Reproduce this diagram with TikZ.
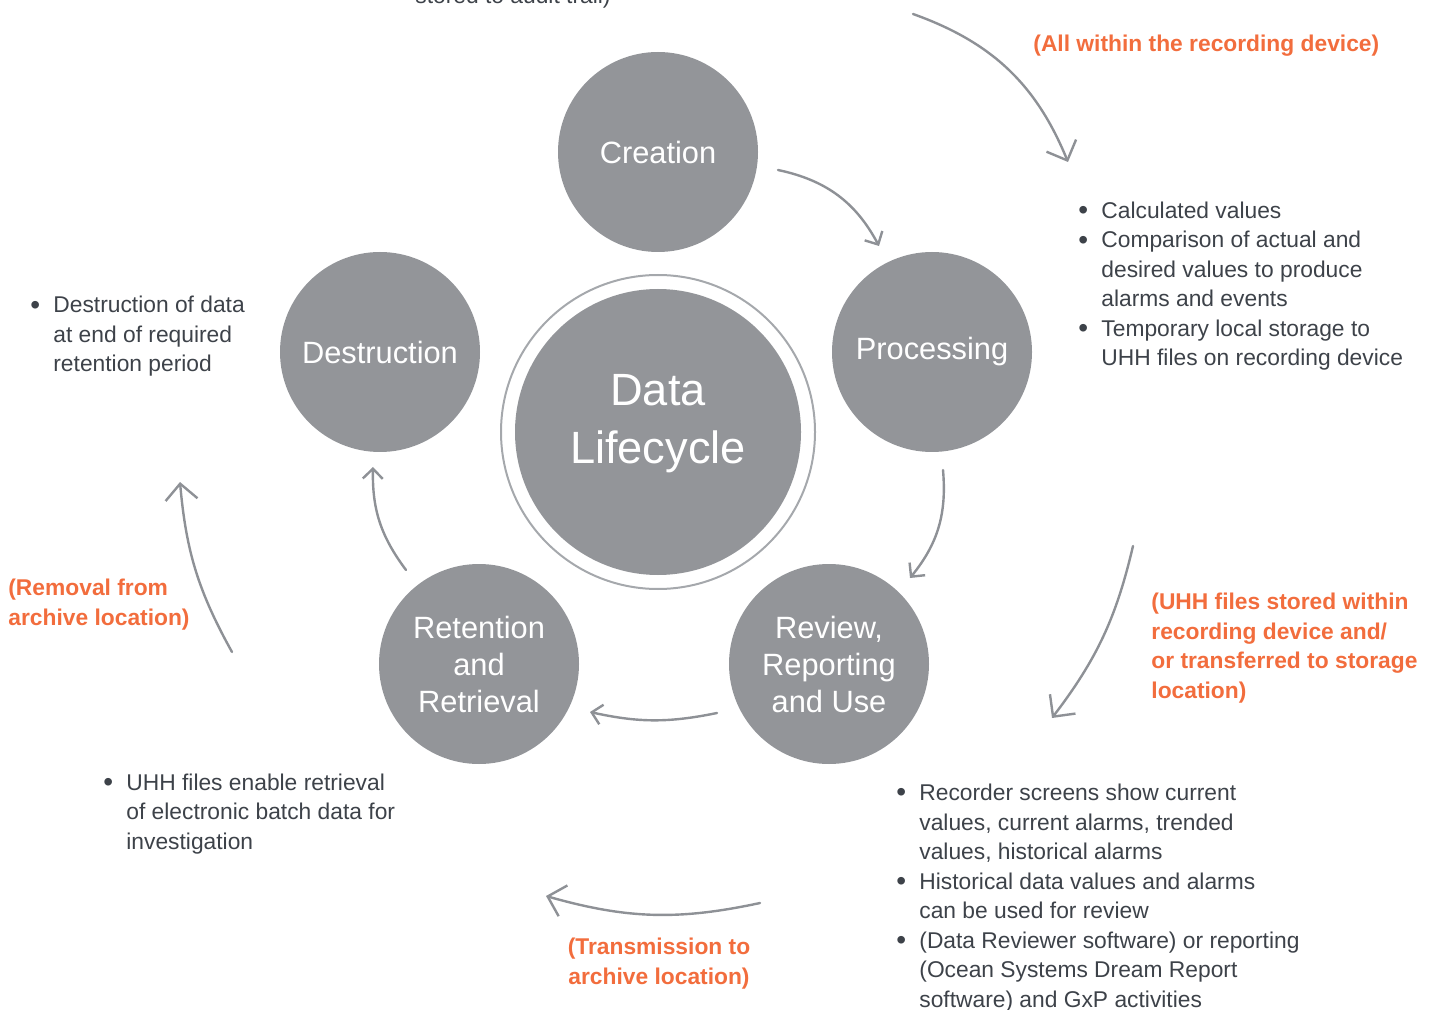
\documentclass[tikz,border=0pt]{standalone}
\usepackage{fontspec}
\setmainfont{Liberation Sans}
\usetikzlibrary{arrows.meta}
\definecolor{stagegrey}{HTML}{939599}
\definecolor{ringgrey}{HTML}{A5A8AC}
\definecolor{arrowgrey}{HTML}{8E9196}
\definecolor{notetext}{HTML}{3D4249}
\definecolor{noteorange}{HTML}{F26D3D}
\newcommand{\blt}{\makebox[11.5pt][l]{\raisebox{-0.6pt}{\fontsize{14}{14}\selectfont\textbullet}}}
\newcommand{\bsp}{\hspace*{11.5pt}}
\begin{document}
\begin{tikzpicture}[x=0.5pt, y=-0.5pt, line cap=round,
stage node/.style={circle,fill=stagegrey,minimum size=100pt,inner sep=0pt,text=white,align=center,font=\fontsize{15.4}{18.5}\selectfont},
note/.style={anchor=base west,align=left,inner sep=0pt,text=notetext,font=\fontsize{11.4}{14.75}\selectfont},
remark/.style={anchor=base west,align=left,inner sep=0pt,text=noteorange,font=\fontsize{11.4}{14.75}\selectfont\bfseries},
inner flow/.style={draw=arrowgrey,line width=1.2pt,-{Straight Barb[length=5pt,width=10pt,line width=1.2pt]}},
outer flow/.style={draw=arrowgrey,line width=1.2pt,-{Straight Barb[length=8pt,width=16pt,line width=1.2pt]}}]
\useasboundingbox (0,0) rectangle (1440,1010);
\begin{scope}
\node[circle,draw=ringgrey,line width=1pt,minimum size=157pt,inner sep=0pt] (ring) at (658,432) {};
\node[circle,fill=stagegrey,minimum size=143pt,inner sep=0pt] (hub) at (658,432) {};
\node[text=white,align=center,font=\fontsize{22.6}{29}\selectfont] (hubtext) at (658,424) {Data\\Lifecycle};
\node[stage node] (creation) at (658,152) {Creation};
\node[stage node] (processing) at (932,352) {Processing};
\node[stage node] (review) at (829,664) {Review,\\Reporting\\and Use};
\node[stage node] (retention) at (479,664) {Retention\\and\\Retrieval};
\node[stage node] (destruction) at (380,352) {Destruction};
\end{scope}
% multi-line notes sit on the baseline of their last line
\begin{scope}
\node[note] (audit) at (415,4) {stored to audit trail)};
\node[remark] (device) at (1033,52) {(All within the recording device)};
\node[note] (procnotes) at (1078,366) {\blt Calculated values\\ \blt Comparison of actual and\\ \bsp desired values to produce\\ \bsp alarms and events\\ \blt Temporary local storage to\\ \bsp UHH files on recording device};
\node[note] (destnotes) at (30,372) {\blt Destruction of data\\ \bsp at end of required\\ \bsp retention period};
\node[remark] (removal) at (8,625) {(Removal from\\archive location)};
\node[remark] (stored) at (1151,698) {(UHH files stored within\\recording device and/\\or transferred to storage\\location)};
\node[note] (retnotes) at (103,849) {\blt UHH files enable retrieval\\ \bsp of electronic batch data for\\ \bsp investigation};
\node[note] (revnotes) at (896,1007) {\blt Recorder screens show current\\ \bsp values, current alarms, trended\\ \bsp values, historical alarms\\ \blt Historical data values and alarms\\ \bsp can be used for review\\ \blt (Data Reviewer software) or reporting\\ \bsp (Ocean Systems Dream Report\\ \bsp software) and GxP activities};
\node[remark,anchor=base,align=center] (transmission) at (659,984) {(Transmission to\\archive location)};
\end{scope}
\begin{scope}
\coordinate (a1s) at (778,170); \coordinate (a1e) at (879,246);
\coordinate (a2s) at (943,470); \coordinate (a2e) at (910,578);
\coordinate (a3s) at (717,713); \coordinate (a3e) at (590,712);
\coordinate (a4s) at (406,570); \coordinate (a4e) at (373,467);
\coordinate (o1s) at (913,14);  \coordinate (o1e) at (1068,162);
\coordinate (o2s) at (1133,546); \coordinate (o2e) at (1052,718);
\coordinate (o3s) at (760,903); \coordinate (o3e) at (546,896);
\coordinate (o4s) at (232,652); \coordinate (o4e) at (180,482);
\end{scope}
\begin{scope}
\draw (a1s) edge[inner flow,bend left=25] (a1e);
\draw (a2s) edge[inner flow,bend left=22] (a2e);
\draw (a3s) edge[inner flow,bend left=12] (a3e);
\draw (a4s) edge[inner flow,bend left=19] (a4e);
\draw (o1s) edge[outer flow,bend left=24] (o1e);
\draw (o2s) edge[outer flow,bend left=12] (o2e);
\draw (o3s) edge[outer flow,bend left=14] (o3e);
\draw (o4s) edge[outer flow,bend left=12] (o4e);
\end{scope}
\end{tikzpicture}
\end{document}
